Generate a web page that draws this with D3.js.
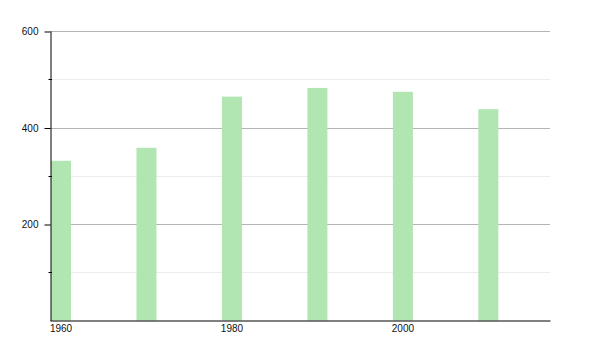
<!DOCTYPE html>
<html>
<head>
<meta charset="utf-8">
<script src="https://cdn.jsdelivr.net/npm/d3@7"></script>
<style>
  body { margin: 0; background: #fff; }
  svg text { font-family: "Liberation Sans", Arial, sans-serif; font-size: 10px; fill: #111; }
</style>
</head>
<body>
<svg id="chart" width="600" height="350"></svg>
<script>
// chart data
var years = [1960, 1970, 1980, 1990, 2000, 2010];
var values = [331, 358, 464, 482, 474, 438];
var xTickYears = [1960, 1980, 2000];
var yMajorTicks = [200, 400, 600];
var yMinorTicks = [100, 300, 500];

var svg = d3.select("#chart");

var plotLeft = 50, plotRight = 550, plotTop = 31, plotBottom = 320.5;
var barWidth = 20;

var xScale = d3.scaleLinear()
    .domain([1960, 2018.5])
    .range([plotLeft, plotRight]);

var yScale = d3.scaleLinear()
    .domain([0, 600])
    .range([plotBottom, plotTop]);

// soft edge on bars
svg.append("defs").append("filter")
    .attr("id", "soft")
    .attr("x", "-20%").attr("width", "140%")
    .append("feGaussianBlur")
    .attr("stdDeviation", 0.6);

function gridY(d) { return Math.round(yScale(d)) + 0.5; }

// gridlines
svg.append("g").selectAll("line")
    .data(yMinorTicks)
    .enter().append("line")
    .attr("x1", plotLeft).attr("x2", plotRight)
    .attr("y1", gridY)
    .attr("y2", gridY)
    .style("stroke", "#ececec");

svg.append("g").selectAll("line")
    .data(yMajorTicks)
    .enter().append("line")
    .attr("x1", plotLeft).attr("x2", plotRight)
    .attr("y1", gridY)
    .attr("y2", gridY)
    .style("stroke", "#b4b4b4");

// bars
svg.append("g").selectAll("rect")
    .data(years)
    .enter().append("rect")
    .attr("x", function (d) { return xScale(d) + 1; })
    .attr("y", function (d, i) { return yScale(values[i]); })
    .attr("width", barWidth)
    .attr("height", function (d, i) { return plotBottom - yScale(values[i]); })
    .attr("filter", "url(#soft)")
    .style("fill", "#b1e5b1");

// y axis
var yAxis = d3.axisLeft(yScale)
    .tickValues(yMajorTicks)
    .tickSize(6)
    .tickSizeOuter(0)
    .tickPadding(6);

var yAxisG = svg.append("g")
    .attr("transform", "translate(" + (plotLeft + 0.5) + ",0)")
    .call(yAxis);
yAxisG.select(".domain").style("stroke", "#000");
yAxisG.selectAll(".tick line").attr("transform", "translate(0,0.5)");
yAxisG.selectAll(".tick text").attr("dy", "0.35em");

// minor ticks
yAxisG.selectAll("line.minor")
    .data(yMinorTicks)
    .enter().append("line")
    .attr("class", "minor")
    .attr("x1", -2).attr("x2", 1.5)
    .attr("y1", gridY)
    .attr("y2", gridY)
    .style("stroke", "#000");

// x axis
var xAxis = d3.axisBottom(xScale)
    .tickValues(xTickYears)
    .tickFormat(d3.format("d"))
    .tickSize(0)
    .tickSizeOuter(0)
    .tickPadding(4);

var xAxisG = svg.append("g")
    .attr("transform", "translate(0," + plotBottom + ")")
    .call(xAxis);
xAxisG.select(".domain").style("stroke", "#000");
xAxisG.selectAll(".tick")
    .attr("transform", function (d) { return "translate(" + (xScale(d) + 1 + barWidth / 2) + ",0)"; });

svg.selectAll("g").attr("font-family", null).attr("font-size", null);
</script>
</body>
</html>
